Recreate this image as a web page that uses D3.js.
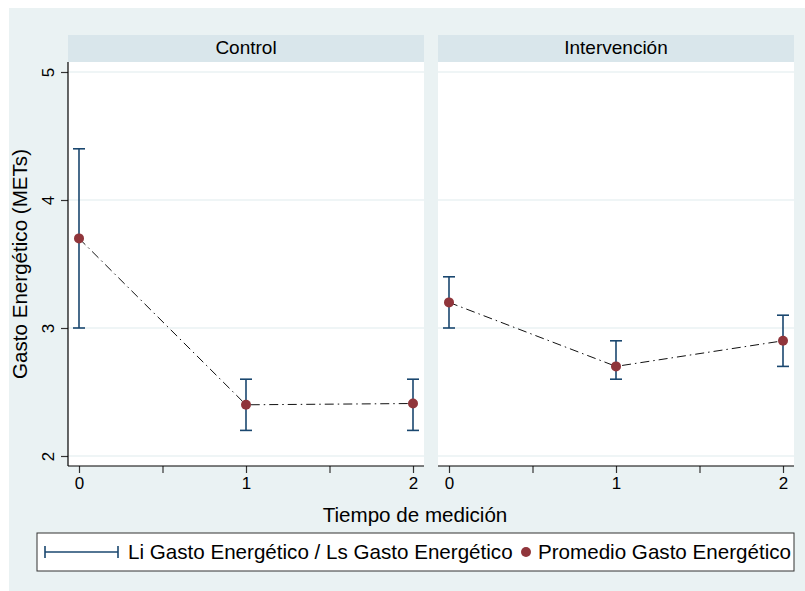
<!DOCTYPE html>
<html>
<head>
<meta charset="utf-8">
<script src="https://cdn.jsdelivr.net/npm/d3@7"></script>
<style>
  body { margin: 0; background: #ffffff; }
  text { font-family: "Liberation Sans", Arial, Helvetica, sans-serif; fill: #000; }
</style>
</head>
<body>
<div id="chart"></div>
<script>
var chart_width = 805;
var chart_height = 591;

// Data
var times = [0, 1, 2];
var panels = ['Control', 'Intervención'];
var control_mean = [3.7, 2.4, 2.41];
var control_lo = [3.0, 2.2, 2.2];
var control_hi = [4.4, 2.6, 2.6];
var interv_mean = [3.2, 2.7, 2.9];
var interv_lo = [3.0, 2.6, 2.7];
var interv_hi = [3.4, 2.9, 3.1];
var y_ticks = [2, 3, 4, 5];
var x_ticks = [0, 0.5, 1, 1.5, 2];
var x_labels = [0, 1, 2];

var series = [
    { name: panels[0], mean: control_mean, lo: control_lo, hi: control_hi },
    { name: panels[1], mean: interv_mean, lo: interv_lo, hi: interv_hi }
];

var svg = d3.select('#chart')
    .append('svg')
    .attr('width', chart_width)
    .attr('height', chart_height);

// outer background
svg.append('rect')
    .attr('x', 9).attr('y', 8)
    .attr('width', chart_width - 9).attr('height', chart_height - 8)
    .attr('fill', '#eaf2f3');

var panel_top = 62;
var panel_bottom = 466;
var strip_top = 35;
var panel_lefts = [68, 438];
var panel_w = 356;

var y_scale = d3.scaleLinear()
    .domain([2, 5])
    .range([456, 72]);

series.forEach(function(s, i) {
    var left = panel_lefts[i];
    var x_scale = d3.scaleLinear()
        .domain([0, 2])
        .range([left + 11, left + 345]);

    var g = svg.append('g');

    // strip
    g.append('rect')
        .attr('x', left).attr('y', strip_top)
        .attr('width', panel_w).attr('height', panel_top - strip_top)
        .attr('fill', '#d9e6eb');
    g.append('text')
        .attr('x', left + panel_w / 2).attr('y', panel_top - 8)
        .attr('text-anchor', 'middle')
        .attr('font-size', 19)
        .text(s.name);

    // plot region
    g.append('rect')
        .attr('x', left).attr('y', panel_top)
        .attr('width', panel_w).attr('height', panel_bottom - panel_top)
        .attr('fill', '#ffffff');

    // gridlines
    g.selectAll('.grid')
        .data(y_ticks)
        .enter()
        .append('line')
        .attr('x1', left).attr('x2', left + panel_w)
        .attr('y1', function(d) { return y_scale(d); })
        .attr('y2', function(d) { return y_scale(d); })
        .attr('stroke', '#eaf2f3')
        .attr('stroke-width', 1.5);

    // x axis
    var x_axis = d3.axisBottom(x_scale)
        .tickValues(x_ticks)
        .tickSize(7)
        .tickPadding(4)
        .tickFormat(function(d) { return x_labels.indexOf(d) >= 0 ? d : ''; });
    var xg = g.append('g')
        .attr('transform', 'translate(0,' + panel_bottom + ')')
        .call(x_axis);
    xg.select('.domain').remove();
    xg.append('line')
        .attr('x1', left).attr('x2', left + panel_w)
        .attr('y1', 0).attr('y2', 0)
        .attr('stroke', '#000').attr('stroke-width', 1.2);
    xg.selectAll('.tick line').attr('stroke', '#333').attr('stroke-width', 1.2);
    xg.selectAll('.tick text')
        .attr('font-size', 17)
        .attr('font-family', '"Liberation Sans", Arial, sans-serif')
        .attr('fill', '#000');

    // y axis on first panel only
    if (i === 0) {
        var y_axis = d3.axisLeft(y_scale)
            .tickValues(y_ticks)
            .tickSize(7)
            .tickFormat(d3.format('d'));
        var yg = g.append('g')
            .attr('transform', 'translate(' + left + ',0)')
            .call(y_axis);
        yg.select('.domain').remove();
        yg.append('line')
            .attr('x1', 0).attr('x2', 0)
            .attr('y1', panel_top).attr('y2', panel_bottom)
            .attr('stroke', '#000').attr('stroke-width', 1.2);
        yg.selectAll('.tick line').attr('stroke', '#333').attr('stroke-width', 1.2);
        yg.selectAll('.tick text')
            .attr('font-size', 17)
            .attr('font-family', '"Liberation Sans", Arial, sans-serif')
            .attr('fill', '#000')
            .attr('x', null).attr('dy', null)
            .attr('text-anchor', 'middle')
            .attr('transform', 'translate(-20,0) rotate(-90)')
            .attr('dy', '0.35em');
    }

    // connecting line
    var line = d3.line()
        .x(function(d, j) { return x_scale(times[j]); })
        .y(function(d) { return y_scale(d); });
    g.append('path')
        .datum(s.mean)
        .attr('fill', 'none')
        .attr('stroke', '#111')
        .attr('stroke-width', 1)
        .attr('stroke-dasharray', '9,4,1.5,4')
        .attr('d', line);

    // error bars
    var bars = g.selectAll('.bar')
        .data(times)
        .enter()
        .append('g');
    bars.append('line')
        .attr('x1', function(d) { return x_scale(d); })
        .attr('x2', function(d) { return x_scale(d); })
        .attr('y1', function(d, j) { return y_scale(s.lo[j]); })
        .attr('y2', function(d, j) { return y_scale(s.hi[j]); })
        .attr('stroke', '#1a476f').attr('stroke-width', 1.6);
    ['lo', 'hi'].forEach(function(k) {
        bars.append('line')
            .attr('x1', function(d) { return x_scale(d) - 6; })
            .attr('x2', function(d) { return x_scale(d) + 6; })
            .attr('y1', function(d, j) { return y_scale(s[k][j]); })
            .attr('y2', function(d, j) { return y_scale(s[k][j]); })
            .attr('stroke', '#1a476f').attr('stroke-width', 1.6);
    });

    // means
    g.selectAll('.pt')
        .data(s.mean)
        .enter()
        .append('circle')
        .attr('cx', function(d, j) { return x_scale(times[j]); })
        .attr('cy', function(d) { return y_scale(d); })
        .attr('r', 5)
        .attr('fill', '#90353b');
});

// axis titles
svg.append('text')
    .attr('transform', 'translate(27,' + ((panel_top + panel_bottom) / 2) + ') rotate(-90)')
    .attr('text-anchor', 'middle')
    .attr('font-size', 20.6)
    .text('Gasto Energético (METs)');

svg.append('text')
    .attr('x', 415).attr('y', 522)
    .attr('text-anchor', 'middle')
    .attr('font-size', 20.6)
    .text('Tiempo de medición');

// legend
var lg = svg.append('g');
lg.append('rect')
    .attr('x', 37).attr('y', 533)
    .attr('width', 757).attr('height', 38)
    .attr('fill', '#ffffff')
    .attr('stroke', '#333').attr('stroke-width', 1);
lg.append('line')
    .attr('x1', 45).attr('x2', 118).attr('y1', 552).attr('y2', 552)
    .attr('stroke', '#1a476f').attr('stroke-width', 1.6);
[45, 118].forEach(function(x) {
    lg.append('line')
        .attr('x1', x).attr('x2', x).attr('y1', 546).attr('y2', 558)
        .attr('stroke', '#1a476f').attr('stroke-width', 1.6);
});
lg.append('text')
    .attr('x', 128).attr('y', 559)
    .attr('font-size', 20.6)
    .text('Li Gasto Energético / Ls Gasto Energético');
lg.append('circle')
    .attr('cx', 526).attr('cy', 552).attr('r', 5)
    .attr('fill', '#90353b');
lg.append('text')
    .attr('x', 538).attr('y', 559)
    .attr('font-size', 20.6)
    .text('Promedio Gasto Energético');
</script>
</body>
</html>
